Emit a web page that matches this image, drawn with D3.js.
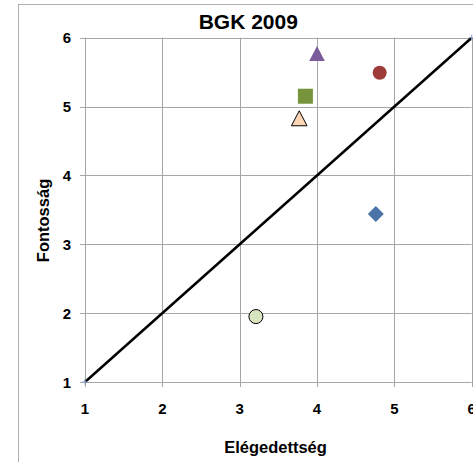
<!DOCTYPE html>
<html><head><meta charset="utf-8">
<script src="https://cdn.jsdelivr.net/npm/d3@7"></script>
<style>body{margin:0;background:#fff}svg{display:block}text{font-family:Arial,"Liberation Sans",sans-serif;font-weight:bold;fill:#000}</style>
</head><body><svg id="c" width="473" height="462"></svg>
<script>
const title = "BGK 2009";
const xLabel = "Elégedettség";
const yLabel = "Fontosság";
const xTicks = [1,2,3,4,5,6];
const yTicks = [1,2,3,4,5,6];
const pointX = [4.0, 4.81, 3.85, 3.77, 4.76, 3.21];
const pointY = [5.77, 5.49, 5.15, 4.83, 3.44, 1.95];
const pointShape = ["triangle","circle","square","triangle","diamond","circle"];
const pointFill = ["#7a5c9a","#9e3a38","#77933c","#fcd5b5","#4a74a8","#d7e4bd"];
const pointStroke = ["none","none","none","#000","none","#000"];
const lineX = [1, 6];
const lineY = [1, 6];

const svg = d3.select("#c");
svg.append("rect").attr("x",18.5).attr("y",4.5).attr("width",500).attr("height",500)
  .attr("fill","#fff").attr("stroke","#b0b0b0");

const x = d3.scaleLinear().domain([1,6]).range([85,471.7]);
const y = d3.scaleLinear().domain([1,6]).range([382,37.7]);

const g = svg.append("g");
// grid
g.selectAll(".gx").data(xTicks).join("line")
  .attr("x1",d=>Math.round(x(d))+0.5).attr("x2",d=>Math.round(x(d))+0.5)
  .attr("y1",y(6)).attr("y2",y(1)+5).attr("stroke","#a6a6a6").attr("stroke-width",1);
g.selectAll(".gy").data(yTicks).join("line")
  .attr("y1",d=>Math.round(y(d))+0.5).attr("y2",d=>Math.round(y(d))+0.5)
  .attr("x1",x(1)-5).attr("x2",x(6)).attr("stroke","#a6a6a6").attr("stroke-width",1);

// tick labels
g.selectAll(".tx").data(xTicks).join("text")
  .attr("x",d=>x(d)).attr("y",413.5).attr("text-anchor","middle").attr("font-size",15).text(d=>d);
g.selectAll(".ty").data(yTicks).join("text")
  .attr("x",71).attr("y",d=>y(d)+5.5).attr("text-anchor","end").attr("font-size",15).text(d=>d);

// titles
svg.append("text").attr("x",248.3).attr("y",28.5).attr("text-anchor","middle").attr("font-size",21).text(title);
svg.append("text").attr("x",275.5).attr("y",453).attr("text-anchor","middle").attr("font-size",16.5).text(xLabel);
svg.append("text").attr("transform","translate(49.2,220.5) rotate(-90)").attr("text-anchor","middle").attr("font-size",16.5).text(yLabel);

// diagonal line
const line = d3.line().x(d=>x(d[0])).y(d=>y(d[1]));
g.append("path").datum(lineX.map((v,i)=>[v,lineY[i]])).attr("d",line)
  .attr("stroke","#000").attr("stroke-width",2.5).attr("fill","none");
g.selectAll(".lm").data(lineX.map((v,i)=>[v,lineY[i]])).join("path")
  .attr("transform",d=>`translate(${x(d[0])},${y(d[1])})`)
  .attr("d","M-3,0H3M0,-3V3").attr("stroke","#8fa3d6").attr("stroke-width",1);

// points
const shapePath = {
  triangle: "M0,-7.5L7.8,7.5L-7.8,7.5Z",
  circle: d3.symbol().type(d3.symbolCircle).size(155)(),
  square: "M-7.5,-7.5H7.5V7.5H-7.5Z",
  diamond: "M0,-8L8,0L0,8L-8,0Z"
};
g.selectAll(".pt").data(pointX.map((v,i)=>i)).join("path")
  .attr("transform",i=>`translate(${x(pointX[i])},${y(pointY[i])})`)
  .attr("d",i=>shapePath[pointShape[i]])
  .attr("fill",i=>pointFill[i]).attr("stroke",i=>pointStroke[i]).attr("stroke-width",1);
</script></body></html>
